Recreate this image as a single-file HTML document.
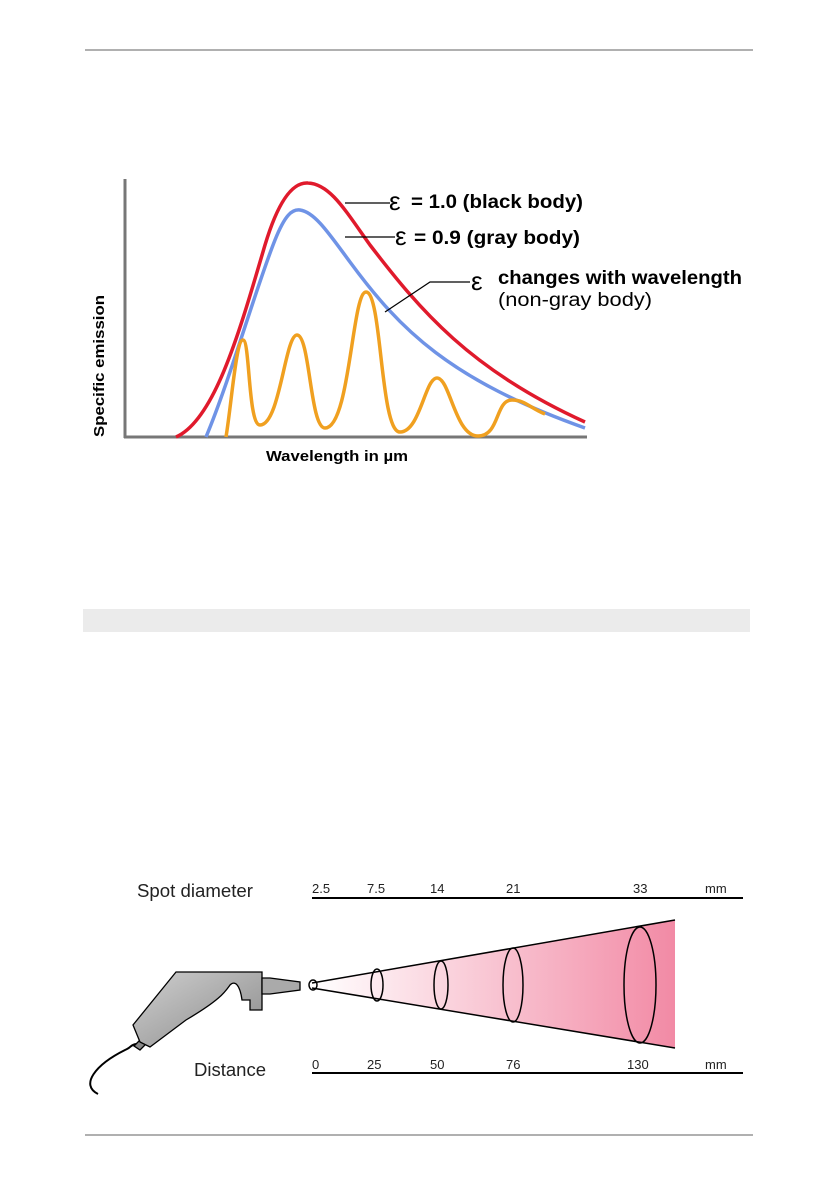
<!DOCTYPE html>
<html><head><meta charset="utf-8"><style>
body{margin:0;background:#fff}
svg{display:block}
text{font-family:"Liberation Sans",sans-serif}
</style></head><body>
<svg width="840" height="1190" viewBox="0 0 840 1190">
<defs>
<linearGradient id="cg" x1="0" x2="1" y1="0" y2="0">
<stop offset="0" stop-color="#fff"/><stop offset="1" stop-color="#f28aa5"/>
</linearGradient>
<linearGradient id="gg" x1="0" x2="1" y1="0" y2="1">
<stop offset="0" stop-color="#cfcfcf"/><stop offset="1" stop-color="#8a8a8a"/>
</linearGradient>
</defs>
<line x1="85" y1="50" x2="753" y2="50" stroke="#b0b0b0" stroke-width="2"/>
<line x1="85" y1="1135" x2="753" y2="1135" stroke="#b0b0b0" stroke-width="2"/>
<rect x="83" y="609" width="667" height="23" fill="#ebebeb"/>

<!-- chart -->
<line x1="125" y1="179" x2="125" y2="438" stroke="#777" stroke-width="3"/>
<line x1="124" y1="437" x2="587" y2="437" stroke="#777" stroke-width="3"/>
<path d="M176,437 C215,420 240,330 265,245 C280,195 295,182 308,183 C330,184 345,210 370,245 C420,310 470,370 585,422" fill="none" stroke="#e01a2c" stroke-width="3.5"/>
<path d="M206,437 C230,380 255,290 275,240 C285,215 292,209 300,210 C315,212 330,235 350,262 C400,330 450,380 585,428" fill="none" stroke="#6f93e6" stroke-width="3.5"/>
<path d="M226,437 C232,400 236,340 243,340 C250,340 248,425 260,425 C280,425 285,335 297,335 C310,335 310,428 325,428 C350,428 352,292 366,292 C382,292 380,432 400,432 C420,432 425,378 437,378 C450,378 455,436 478,436 C500,436 495,400 512,400 C525,400 530,408 545,414" fill="none" stroke="#f0a020" stroke-width="3.5"/>
<g stroke="#000" stroke-width="1.2" fill="none">
<line x1="345" y1="203" x2="390" y2="203"/>
<line x1="345" y1="237" x2="395" y2="237"/>
<polyline points="385,312 430,282 470,282"/>
</g>
<g font-weight="bold" font-size="19" fill="#000">
<text x="389" y="210" font-size="26" font-weight="normal">ε</text>
<text x="411" y="208" textLength="172" lengthAdjust="spacingAndGlyphs">= 1.0 (black body)</text>
<text x="395" y="245" font-size="26" font-weight="normal">ε</text>
<text x="414" y="244" textLength="166" lengthAdjust="spacingAndGlyphs">= 0.9 (gray body)</text>
<text x="471" y="290" font-size="26" font-weight="normal">ε</text>
<text x="498" y="284" textLength="244" lengthAdjust="spacingAndGlyphs">changes with wavelength</text>
<text x="498" y="306" font-weight="normal" textLength="154" lengthAdjust="spacingAndGlyphs">(non-gray body)</text>
<text x="266" y="461" font-size="15" textLength="142" lengthAdjust="spacingAndGlyphs">Wavelength in µm</text>
<text transform="translate(104,437) rotate(-90)" font-size="15" textLength="142" lengthAdjust="spacingAndGlyphs">Specific emission</text>
</g>

<!-- spot diagram -->
<g font-size="15" fill="#222">
<text x="137" y="897" font-size="18" textLength="116" lengthAdjust="spacingAndGlyphs">Spot diameter</text>
<text x="194" y="1076" font-size="18" textLength="72" lengthAdjust="spacingAndGlyphs">Distance</text>
<text x="312" y="893" font-size="13">2.5</text>
<text x="367" y="893" font-size="13">7.5</text>
<text x="430" y="893" font-size="13">14</text>
<text x="506" y="893" font-size="13">21</text>
<text x="633" y="893" font-size="13">33</text>
<text x="705" y="893" font-size="13">mm</text>
<text x="312" y="1069" font-size="13">0</text>
<text x="367" y="1069" font-size="13">25</text>
<text x="430" y="1069" font-size="13">50</text>
<text x="506" y="1069" font-size="13">76</text>
<text x="627" y="1069" font-size="13">130</text>
<text x="705" y="1069" font-size="13">mm</text>
</g>
<line x1="312" y1="898" x2="743" y2="898" stroke="#000" stroke-width="2"/>
<line x1="312" y1="1073" x2="743" y2="1073" stroke="#000" stroke-width="2"/>
<polygon points="312,983 675,920 675,1048 312,988" fill="url(#cg)"/>
<g stroke="#000" stroke-width="1.5" fill="none">
<line x1="312" y1="983" x2="675" y2="920"/>
<line x1="312" y1="988" x2="675" y2="1048"/>
<ellipse cx="313" cy="985" rx="4" ry="5"/>
<ellipse cx="377" cy="985" rx="6" ry="16"/>
<ellipse cx="441" cy="985" rx="7" ry="24"/>
<ellipse cx="513" cy="985" rx="10" ry="37"/>
<ellipse cx="640" cy="985" rx="16" ry="58"/>
</g>
<g stroke="#000" stroke-width="1.3">
<path d="M98,1094 C80,1085 95,1065 125,1050 C132,1047 130,1045 136,1044" fill="none" stroke-width="2"/>
<polygon points="134,1046 140,1040 146,1044 140,1050" fill="#888"/>
<path d="M176,972 L210,972 L262,972 L262,1010 L250,1010 L250,1000 L242,1000 C240,985 235,980 230,985 C225,992 220,1000 186,1020 L150,1047 L140,1042 L133,1025 Z" fill="url(#gg)"/>
<polygon points="262,978 270,978 300,982 300,990 270,994 262,994" fill="#aaa"/>
</g>
</svg>
</body></html>
